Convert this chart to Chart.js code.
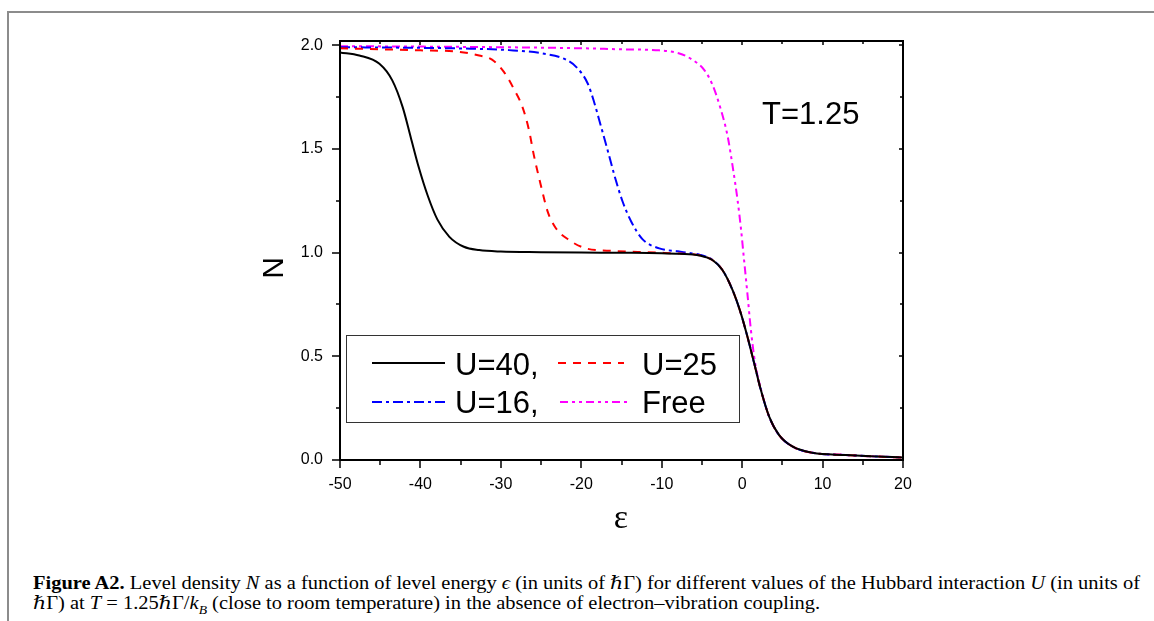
<!DOCTYPE html>
<html>
<head>
<meta charset="utf-8">
<script src="https://cdn.jsdelivr.net/npm/chart.js@4/dist/chart.umd.min.js"></script>
<style>
html, body { margin: 0; padding: 0; background: #fff; width: 1154px; height: 621px; overflow: hidden; position: relative; }
#frame-top { position: absolute; left: 7px; top: 11px; width: 1147px; height: 2px; background: #8c8c8c; }
#frame-left { position: absolute; left: 7px; top: 11px; width: 2px; height: 610px; background: #8c8c8c; }
#wrap { position: absolute; left: 0; top: 0; width: 1154px; height: 540px; }
#caption { position: absolute; left: 33px; top: 573px; font-family: "Liberation Serif", "DejaVu Serif", serif; font-size: 18px; line-height: 20px; color: #000; white-space: nowrap; }
#caption .ln { display: inline-block; transform-origin: 0 0; }
#caption sub { font-size: 12px; line-height: 0; }
</style>
</head>
<body>
<div id="frame-top"></div>
<div id="frame-left"></div>
<div id="wrap"><canvas id="c" width="1154" height="540"></canvas></div>
<div id="caption">
  <span class="ln"><b>Figure A2.</b> Level density <i>N</i> as a function of level energy <i>ϵ</i> (in units of <i>ℏ</i>Γ) for different values of the Hubbard interaction <i>U</i> (in units of</span><br>
  <span class="ln"><i>ℏ</i>Γ) at <i>T</i> = 1.25<i>ℏ</i>Γ/<i>k<sub>B</sub></i> (close to room temperature) in the absence of electron–vibration coupling.</span>
</div>
<script>
// 刻度
const xTicks = [-50, -40, -30, -20, -10, 0, 10, 20];
const yTicks = [0, 0.5, 1.0, 1.5, 2.0];

// U=40
const epsU40 = [-50, -47.6, -45.1, -43.5, -42.2, -41.2, -40.2, -39.1, -37.9, -36.4, -34.6, -32.7, -30, -25, -20, -15, -10, -7.8, -5.3, -3.7, -2.45, -1.2, -0.16, 0.66, 1.5, 2.33, 3.36, 4.6, 6.3, 8.75, 12.9, 16, 20];
const nU40 = [1.965, 1.95, 1.91, 1.83, 1.70, 1.555, 1.41, 1.275, 1.16, 1.076, 1.028, 1.012, 1.005, 1.002, 1.0, 0.999, 0.997, 0.994, 0.986, 0.964, 0.916, 0.82, 0.707, 0.594, 0.466, 0.337, 0.209, 0.12, 0.064, 0.035, 0.024, 0.018, 0.012];

// U=25
const epsU25 = [-50, -45, -40, -35.2, -32.7, -31.1, -29.6, -28.4, -27.3, -26.5, -25.9, -25.0, -24.2, -23.2, -21.5, -19.4, -16.5, -13, -10, -7.8, -5.3, -3.7, -2.45, -1.2, -0.16, 0.66, 1.5, 2.33, 3.36, 4.6, 6.3, 8.75, 12.9, 16, 20];
const nU25 = [1.985, 1.98, 1.975, 1.968, 1.95, 1.93, 1.87, 1.79, 1.70, 1.59, 1.47, 1.32, 1.20, 1.12, 1.06, 1.02, 1.009, 1.003, 0.999, 0.995, 0.987, 0.964, 0.916, 0.82, 0.707, 0.594, 0.466, 0.337, 0.209, 0.12, 0.064, 0.035, 0.024, 0.018, 0.012];

// U=16
const epsU16 = [-50, -40, -35, -29, -24.8, -21.9, -20.5, -19.2, -18.4, -17.6, -16.7, -15.9, -14.9, -13.8, -12.4, -10.3, -8, -6.6, -5.3, -3.7, -2.45, -1.2, -0.16, 0.66, 1.5, 2.33, 3.36, 4.6, 6.3, 8.75, 12.9, 16, 20];
const nU16 = [1.99, 1.987, 1.984, 1.976, 1.96, 1.93, 1.89, 1.815, 1.725, 1.615, 1.49, 1.375, 1.25, 1.15, 1.065, 1.02, 1.006, 0.998, 0.99, 0.965, 0.916, 0.82, 0.707, 0.594, 0.466, 0.337, 0.209, 0.12, 0.064, 0.035, 0.024, 0.018, 0.012];

// Free
const epsFree = [-50, -40, -30, -20, -15, -10.3, -7.8, -6.2, -4.7, -3.7, -2.65, -1.8, -1.2, -0.56, -0.16, 0.25, 0.66, 1.08, 1.6, 2.33, 3.36, 4.6, 6.3, 8.75, 12.9, 16, 20];
const nFree = [1.995, 1.993, 1.99, 1.985, 1.98, 1.975, 1.96, 1.93, 1.88, 1.81, 1.69, 1.56, 1.42, 1.25, 1.12, 0.96, 0.80, 0.63, 0.47, 0.342, 0.209, 0.12, 0.064, 0.035, 0.024, 0.018, 0.012];

const zip = (xs, ys) => xs.map((v, i) => ({ x: v, y: ys[i] }));

const overlay = {
    id: 'overlay',
    afterDatasetsDraw(chart) {
        const { ctx, chartArea: a, scales: { x, y } } = chart;
        ctx.save();
        ctx.strokeStyle = '#000';
        ctx.lineWidth = 2;
        ctx.strokeRect(a.left, a.top, a.right - a.left, a.bottom - a.top);
        ctx.lineWidth = 1.5;
        ctx.beginPath();
        // x 轴刻度: 主刻度 + 中间的次刻度
        for (let i = 0; i < xTicks.length; i++) {
            const p = Math.round(x.getPixelForValue(xTicks[i]));
            ctx.moveTo(p, a.bottom); ctx.lineTo(p, a.bottom + 8);
            ctx.moveTo(p, a.top); ctx.lineTo(p, a.top + 4);
            if (i < xTicks.length - 1) {
                const m = Math.round(x.getPixelForValue((xTicks[i] + xTicks[i + 1]) / 2));
                ctx.moveTo(m, a.bottom); ctx.lineTo(m, a.bottom + 5);
                ctx.moveTo(m, a.top); ctx.lineTo(m, a.top + 3);
            }
        }
        for (let i = 0; i < yTicks.length; i++) {
            const p = Math.round(y.getPixelForValue(yTicks[i]));
            ctx.moveTo(a.left, p); ctx.lineTo(a.left - 8, p);
            ctx.moveTo(a.right, p); ctx.lineTo(a.right - 4, p);
            if (i < yTicks.length - 1) {
                const m = Math.round(y.getPixelForValue((yTicks[i] + yTicks[i + 1]) / 2));
                ctx.moveTo(a.left, m); ctx.lineTo(a.left - 4, m);
                ctx.moveTo(a.right, m); ctx.lineTo(a.right - 3, m);
            }
        }
        ctx.stroke();

        // 图例
        ctx.fillStyle = '#fff';
        ctx.fillRect(346, 335, 393, 87);
        ctx.strokeStyle = '#333';
        ctx.lineWidth = 1;
        ctx.strokeRect(346.5, 335.5, 393, 87);
        const ds = chart.data.datasets;
        const items = [
            { d: ds[0], x0: 372, x1: 445, tx: 455, ly: 363, by: 375 },
            { d: ds[1], x0: 558, x1: 624, tx: 642, ly: 363, by: 375 },
            { d: ds[2], x0: 372, x1: 445, tx: 455, ly: 402, by: 413 },
            { d: ds[3], x0: 560, x1: 627, tx: 642, ly: 402, by: 413 }
        ];
        ctx.font = '31px "Liberation Sans", Arial, sans-serif';
        ctx.textAlign = 'left';
        ctx.textBaseline = 'alphabetic';
        items.forEach(it => {
            ctx.strokeStyle = it.d.borderColor;
            ctx.lineWidth = it.d.borderWidth;
            ctx.setLineDash(it.d.borderDash || []);
            ctx.beginPath();
            ctx.moveTo(it.x0, it.ly); ctx.lineTo(it.x1, it.ly);
            ctx.stroke();
            ctx.setLineDash([]);
            ctx.fillStyle = '#000';
            ctx.fillText(it.d.label, it.tx, it.by);
        });

        // 文字标注
        ctx.fillStyle = '#000';
        ctx.fillText('T=1.25', 762, 124);
        ctx.font = '34px "Liberation Serif", "DejaVu Serif", serif';
        ctx.textAlign = 'center';
        ctx.fillText('ε', 621, 528);
        ctx.save();
        ctx.translate(283, 268);
        ctx.rotate(-Math.PI / 2);
        ctx.font = '30px "Liberation Sans", Arial, sans-serif';
        ctx.fillText('N', 0, 0);
        ctx.restore();
        ctx.restore();
    }
};

new Chart(document.getElementById('c').getContext('2d'), {
    type: 'line',
    data: {
        datasets: [
            { label: 'U=40,', data: zip(epsU40, nU40), borderColor: '#000000', borderWidth: 2 },
            { label: 'U=25', data: zip(epsU25, nU25), borderColor: '#ff0000', borderWidth: 2, borderDash: [8, 7] },
            { label: 'U=16,', data: zip(epsU16, nU16), borderColor: '#0000ff', borderWidth: 2, borderDash: [10, 4, 3, 4] },
            { label: 'Free', data: zip(epsFree, nFree), borderColor: '#ff00ff', borderWidth: 2, borderDash: [8, 4, 3, 4, 3, 4] }
        ]
    },
    options: {
        responsive: false,
        animation: false,
        layout: { padding: { left: 280, right: 251, top: 41, bottom: 40 } },
        plugins: { legend: { display: false }, tooltip: { enabled: false } },
        elements: { point: { radius: 0 }, line: { cubicInterpolationMode: 'monotone', fill: false } },
        scales: {
            x: {
                type: 'linear', min: -50, max: 20,
                afterBuildTicks: s => { s.ticks = xTicks.map(v => ({ value: v })); },
                afterFit: s => { s.height = 40; },
                grid: { display: true, drawOnChartArea: false, drawTicks: false },
                border: { display: false },
                ticks: { color: '#000', padding: 15, maxRotation: 0, font: { family: '"Liberation Sans", Arial, sans-serif', size: 16 }, callback: v => String(v) }
            },
            y: {
                type: 'linear', min: 0, max: 2.02,
                afterBuildTicks: s => { s.ticks = yTicks.map(v => ({ value: v })); },
                afterFit: s => { s.width = 60; },
                grid: { display: true, drawOnChartArea: false, drawTicks: false },
                border: { display: false },
                ticks: { color: '#000', padding: 17, font: { family: '"Liberation Sans", Arial, sans-serif', size: 16 }, callback: v => v.toFixed(1) }
            }
        }
    },
    plugins: [overlay]
});

// 标题宽度按原图压缩
const lines = document.querySelectorAll('#caption .ln');
const w1 = lines[0].getBoundingClientRect().width;
const s = 1107 / w1;
lines.forEach(l => { l.style.transform = 'scaleX(' + s + ')'; });
</script>
</body>
</html>
